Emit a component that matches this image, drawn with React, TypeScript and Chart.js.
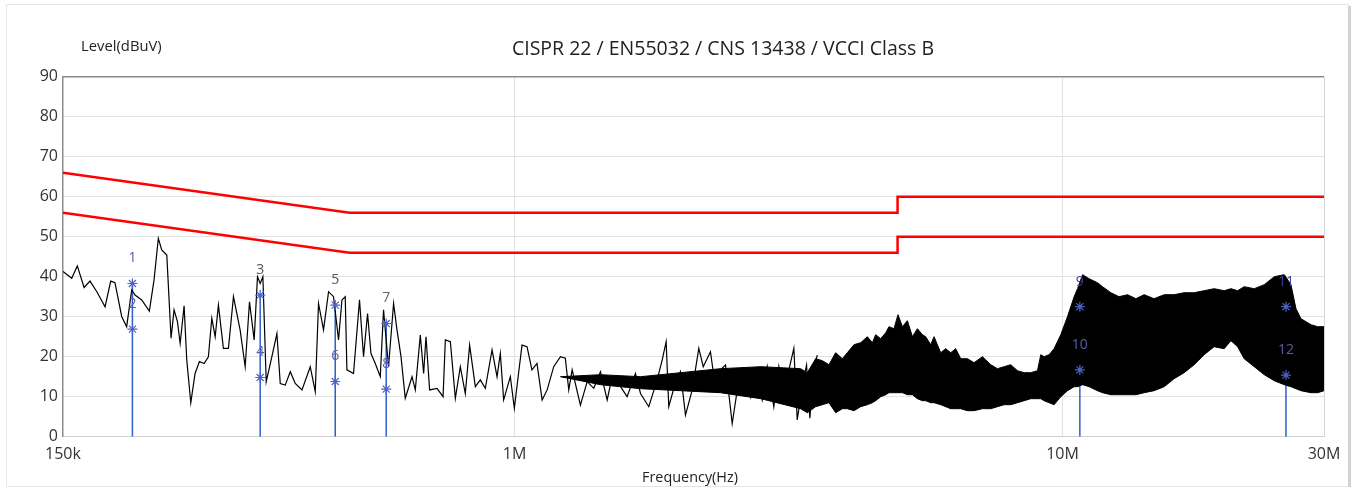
import React, { useEffect, useRef } from "react";
import { Chart, registerables } from "chart.js";

Chart.register(...registerables);

// ---------- text ----------
const TITLE = "CISPR 22 / EN55032 / CNS 13438 / VCCI Class B";
const Y_LABEL = "Level(dBuV)";
const X_LABEL = "Frequency(Hz)";

// ---------- axes ----------
const xTickValues = [150e3, 1e6, 10e6, 30e6];
const xTickLabels = ["150k", "1M", "10M", "30M"];
const yMin = 0;
const yMax = 90;
const yStep = 10;

// ---------- limit lines (CISPR 22 class B) ----------
const limitFreqHz = [150e3, 500e3, 5e6, 5e6, 30e6];
const qpLimit = [66, 56, 56, 60, 60];
const avLimit = [56, 46, 46, 50, 50];

// ---------- measured trace (sparse part, kHz / dBuV) ----------
const traceFreqKHz = [
  150, 155.6, 159.3, 163.9, 168.0, 172.8, 179.0, 183.3, 186.6, 192.0,
  196.0, 200.2, 203.0, 208.8, 215.6, 219.9, 223.9, 227.1, 232.0, 236.2,
  239.2, 242.6, 245.4, 249.5, 252.3, 256.6, 261.3, 266.1, 271.4, 276.3,
  280.3, 284.3, 288.2, 294.3, 300.6, 307.0, 315.7, 322.5, 328.4, 334.9,
  339.6, 343.5, 347.4, 352.3, 360.8, 368.5, 373.7, 381.6, 389.8, 398.0,
  409.4, 423.9, 432.9, 438.9, 448.2, 457.8, 467.5, 477.4, 484.3, 491.0,
  494.5, 508.4, 521.4, 530.3, 539.3, 547.1, 557.1, 568.9, 576.8, 589.0,
  601.6, 610.3, 620.7, 631.9, 650.1, 659.1, 673.1, 682.6, 689.4, 700.0,
  722.1, 740.6, 747.8, 763.7, 779.9, 796.3, 813.2, 828.1, 848.2, 866.1,
  884.5, 909.9, 929.2, 942.1, 955.4, 982.6, 999.3, 1017, 1032, 1054,
  1076, 1099, 1123, 1147, 1179, 1213, 1238, 1256, 1274, 1319,
  1357, 1395, 1435, 1476, 1507, 1561, 1605, 1662, 1698, 1758,
  1821, 1860, 1891, 1912, 1953, 2008, 2051, 2110, 2169, 2210,
  2278, 2327, 2376, 2427, 2496, 2566, 2639, 2696, 2753, 2831,
  2892, 2973, 3036, 3101, 3167, 3234, 3280, 3350, 3411, 3459,
  3518, 3569,
];
const traceLevel = [
  41.3, 39.6, 42.7, 37.3, 38.9, 36.3, 32.5, 38.9, 38.5, 30,
  27.5, 36.7, 35.4, 34.2, 31.4, 39.2, 49.6, 46.7, 45.4, 24.6,
  31.7, 28.8, 23.3, 32.7, 19.2, 8.5, 15.8, 18.8, 18.3, 20,
  29.6, 25, 32.9, 22.1, 22.1, 35, 26.7, 17.5, 33.75, 24.2,
  40, 38.3, 40, 13.75, 20, 25.8, 13.3, 12.9, 16.25, 13.3,
  11.7, 17.5, 11.25, 33.3, 26.7, 36.25, 35, 24.2, 34.2, 35,
  16.7, 15.8, 34.2, 20, 30.8, 20.8, 18.3, 15, 31.7, 17.5,
  33.3, 26.7, 20, 9.6, 15, 11.7, 25.4, 15.8, 25, 11.7,
  12.1, 10, 24.2, 23.75, 9.6, 17.5, 10.8, 22.9, 12.5, 14.2,
  12.1, 21.7, 15, 20.8, 9.2, 15, 7.1, 15.8, 22.9, 22.5,
  16.7, 18.3, 9.2, 11.7, 17.5, 20, 19.6, 11.7, 16.7, 7.9,
  13.75, 12.1, 16.25, 9.2, 15, 12.5, 10, 15.8, 10.8, 7.5,
  14.2, 19.2, 23.75, 7.5, 12.1, 16.25, 5.4, 11.7, 22.1, 17.5,
  21.25, 12.1, 16.7, 17.9, 3.3, 14.2, 16.7, 10, 16.7, 9.2,
  17.5, 7.5, 17.5, 9.2, 16.7, 22.1, 4.2, 12.5, 17.9, 4.6,
  17.5, 20.4,
];

// ---------- dense part of the trace: envelope (MHz / dBuV) ----------
const bandFreqMHz = [
  1.213, 1.435, 1.698, 2.008, 2.376, 2.816,
  3.327, 3.422, 3.544, 3.645, 3.748, 3.855, 3.965, 4.049, 4.163, 4.282,
  4.404, 4.498, 4.561, 4.658, 4.757, 4.823, 4.926, 5.009, 5.103, 5.211,
  5.322, 5.435, 5.55, 5.628, 5.747, 5.828, 5.994, 6.122, 6.252, 6.384,
  6.52, 6.706, 6.895, 7.143, 7.396, 7.608, 7.822, 8.045, 8.275, 8.508,
  8.751, 9.001, 9.127, 9.254, 9.451, 9.652, 9.927, 10.21, 10.5, 10.65,
  10.88, 11.18, 11.58, 11.83, 12.25, 12.68, 13.14, 13.61, 14.09, 14.69,
  15.33, 15.98, 16.67, 17.39, 18.13, 18.91, 19.72, 20.29, 20.87, 21.45,
  22.38, 23.34, 24.34, 25.39, 26.11, 26.67, 27.23, 28.4, 29.22, 30,
];
const bandUpper = [
  15, 15.5, 15, 16, 17, 17.5,
  17, 16, 19.5, 19, 18, 21, 19.5, 21, 23, 23.5,
  25, 23.5, 25.5, 24.5, 26, 27.5, 27, 30.5, 27.5, 29,
  25, 27, 25.5, 25, 23, 25, 21, 22, 21, 22,
  19.5, 19.5, 18.5, 20, 18, 17, 17.5, 18, 16.5, 16,
  16, 16.5, 20.5, 20, 20.5, 22, 25.5, 30, 35, 37,
  40.5, 39.5, 38.5, 37.5, 36, 35, 35.5, 34.5, 35.5, 34.5,
  35.5, 35.5, 36, 36, 36.5, 37, 36.5, 37, 36.5, 37.5,
  37, 38, 40, 40.5, 38, 32, 29.5, 28, 27.5, 27.5,
];
const bandLower = [
  15, 13, 12, 11.5, 11, 9.5,
  7, 6, 7.5, 8, 8.5, 6, 7, 7, 6.5, 7.5,
  8, 8.5, 9, 10, 10.5, 11, 11, 11, 11, 10.5,
  10.5, 9.5, 9, 9, 8.5, 8.5, 8, 7.5, 7, 7,
  7, 6.5, 6.5, 7, 7, 7.5, 8, 8, 8.5, 9,
  9.5, 9.5, 9.5, 9, 8.5, 8, 10, 11.5, 12.5, 12.5,
  13, 12.5, 11.5, 11, 10.5, 10.5, 10.5, 10.5, 11, 11.5,
  12.5, 14.5, 16, 18, 20.5, 22.5, 22, 24, 22.5, 19.5,
  17.5, 15.5, 14, 13, 12.5, 12, 11.5, 11, 11, 11.5,
];

// ---------- markers (QP = odd numbers, AV = even numbers) ----------
const markerFreqMHz = [0.2008, 0.3435, 0.4708, 0.5833, 10.755, 25.57];
const markerQP = [38.3, 35.4, 32.9, 28.3, 32.5, 32.5];
const markerAV = [26.9, 14.8, 13.8, 11.9, 16.7, 15.4];
const markerQPLabel = ["1", "3", "5", "7", "9", "11"];
const markerAVLabel = ["2", "4", "6", "8", "10", "12"];

// ---------- styling ----------
const W = 1359;
const H = 490;
const FONT = "'Open Sans', 'Noto Sans', sans-serif";
const QP_LABEL_COLORS = ["#5b5bab", "#555555", "#555555", "#666666", "#3b3b9b", "#3b3b9b"];
const AV_LABEL_COLOR = "#5b5bab";

export default function App() {
  const ref = useRef<HTMLCanvasElement | null>(null);

  useEffect(() => {
    const canvas = ref.current;
    if (!canvas) return;

    const trace = traceFreqKHz.map((f, i) => ({ x: f * 1e3, y: traceLevel[i] }));
    const bandUp = bandFreqMHz.map((f, i) => ({ x: f * 1e6, y: bandUpper[i] }));
    const bandLo = bandFreqMHz.map((f, i) => ({ x: f * 1e6, y: bandLower[i] }));
    const qp = limitFreqHz.map((f, i) => ({ x: f, y: qpLimit[i] }));
    const av = limitFreqHz.map((f, i) => ({ x: f, y: avLimit[i] }));
    const mLines: { x: number; y: number | null }[] = [];
    markerFreqMHz.forEach((f, i) => {
      mLines.push({ x: f * 1e6, y: 0 }, { x: f * 1e6, y: markerQP[i] }, { x: f * 1e6, y: null });
    });
    const stars = markerFreqMHz.flatMap((f, i) => [
      { x: f * 1e6, y: markerQP[i] },
      { x: f * 1e6, y: markerAV[i] },
    ]);

    const decor = {
      id: "decor",
      beforeDraw(chart: any) {
        const ctx = chart.ctx;
        ctx.save();
        ctx.fillStyle = "#ffffff";
        ctx.fillRect(0, 0, W, H);
        ctx.strokeStyle = "#e6e6e6";
        ctx.lineWidth = 1;
        ctx.strokeRect(6.5, 4.5, 1342, 482);
        ctx.fillStyle = "#d2d2d2";
        ctx.fillRect(1348, 6, 3, 481);
        ctx.restore();
      },
      afterDatasetsDraw(chart: any) {
        const ctx = chart.ctx;
        const xs = chart.scales.x;
        const ys = chart.scales.y;
        ctx.save();
        ctx.font = `14px ${FONT}`;
        ctx.textAlign = "center";
        ctx.textBaseline = "middle";
        markerFreqMHz.forEach((f, i) => {
          const px = xs.getPixelForValue(f * 1e6);
          ctx.fillStyle = QP_LABEL_COLORS[i];
          ctx.fillText(markerQPLabel[i], px, ys.getPixelForValue(markerQP[i]) - 25);
          ctx.fillStyle = AV_LABEL_COLOR;
          ctx.fillText(markerAVLabel[i], px, ys.getPixelForValue(markerAV[i]) - 25);
        });
        ctx.restore();
      },
      afterDraw(chart: any) {
        const ctx = chart.ctx;
        const a = chart.chartArea;
        ctx.save();
        ctx.fillStyle = "#222222";
        ctx.textBaseline = "middle";
        ctx.textAlign = "center";
        ctx.font = `19.5px ${FONT}`;
        ctx.fillText(TITLE, 723, 49);
        ctx.font = `14.8px ${FONT}`;
        ctx.textAlign = "left";
        ctx.fillText(Y_LABEL, 81, 47);
        ctx.font = `14.4px ${FONT}`;
        ctx.textAlign = "center";
        ctx.fillText(X_LABEL, 690, 478);
        ctx.strokeStyle = "#8c8c8c";
        ctx.lineWidth = 1.5;
        ctx.beginPath();
        ctx.moveTo(a.left, a.top);
        ctx.lineTo(a.right, a.top);
        ctx.stroke();
        ctx.restore();
      },
    };

    const chart = new Chart(canvas, {
      type: "line",
      data: {
        datasets: [
          { label: "QP limit", data: qp, borderColor: "#ff0000", borderWidth: 2.5, pointRadius: 0, fill: false },
          { label: "AV limit", data: av, borderColor: "#ff0000", borderWidth: 2.5, pointRadius: 0, fill: false },
          {
            label: "markers",
            data: stars,
            showLine: false,
            pointStyle: "star",
            pointRadius: 5,
            borderColor: "#4a63c8",
            pointBorderColor: "#4a63c8",
            pointBorderWidth: 1.2,
            backgroundColor: "#4a63c8",
          },
          { label: "trace", data: trace, borderColor: "#000000", borderWidth: 1.2, pointRadius: 0, fill: false },
          {
            label: "dense upper",
            data: bandUp,
            borderColor: "#000000",
            borderWidth: 1,
            pointRadius: 0,
            backgroundColor: "#000000",
            fill: "+1",
          },
          { label: "dense lower", data: bandLo, borderColor: "#000000", borderWidth: 1, pointRadius: 0, fill: false },
          {
            label: "marker lines",
            data: mLines as any,
            borderColor: "#2f5fc8",
            borderWidth: 1.5,
            pointRadius: 0,
            spanGaps: false,
            fill: false,
          },
        ],
      },
      options: {
        responsive: false,
        devicePixelRatio: 1,
        animation: false,
        events: [],
        layout: { padding: { top: 76.7, right: 35, bottom: 0, left: 0 } },
        plugins: { legend: { display: false }, tooltip: { enabled: false }, title: { display: false } },
        elements: { line: { tension: 0 } },
        scales: {
          x: {
            type: "logarithmic",
            min: 150e3,
            max: 30e6,
            afterBuildTicks: (s: any) => {
              s.ticks = xTickValues.map((v) => ({ value: v }));
            },
            afterFit: (s: any) => {
              s.height = 53.3;
            },
            ticks: {
              autoSkip: false,
              maxRotation: 0,
              padding: 8,
              color: "#333333",
              font: { family: FONT, size: 16 },
              callback: (_v: any, i: number) => xTickLabels[i],
            },
            grid: {
              drawTicks: false,
              color: (c: any) => {
                const v = c.tick && c.tick.value;
                if (v === 1e6 || v === 10e6) return "#e2e2e2";
                if (v === 30e6) return "#d4d4d4";
                return "rgba(0,0,0,0)";
              },
            },
            border: { color: "#d0d0d0", width: 1 },
          },
          y: {
            type: "linear",
            min: yMin,
            max: yMax,
            afterFit: (s: any) => {
              s.width = 63;
            },
            ticks: {
              stepSize: yStep,
              padding: 5,
              color: "#333333",
              font: { family: FONT, size: 16 },
            },
            grid: {
              drawTicks: false,
              color: (c: any) => {
                const v = c.tick && c.tick.value;
                if (v === 0 || v === 90) return "rgba(0,0,0,0)";
                return "#e2e2e2";
              },
            },
            border: { color: "#8c8c8c", width: 1.5 },
          },
        },
      },
      plugins: [decor],
    } as any);

    return () => chart.destroy();
  }, []);

  return (
    <div style={{ position: "absolute", left: 0, top: 0, width: W, height: H, background: "#fff" }}>
      <canvas ref={ref} width={W} height={H} style={{ display: "block", width: W, height: H }} />
    </div>
  );
}
